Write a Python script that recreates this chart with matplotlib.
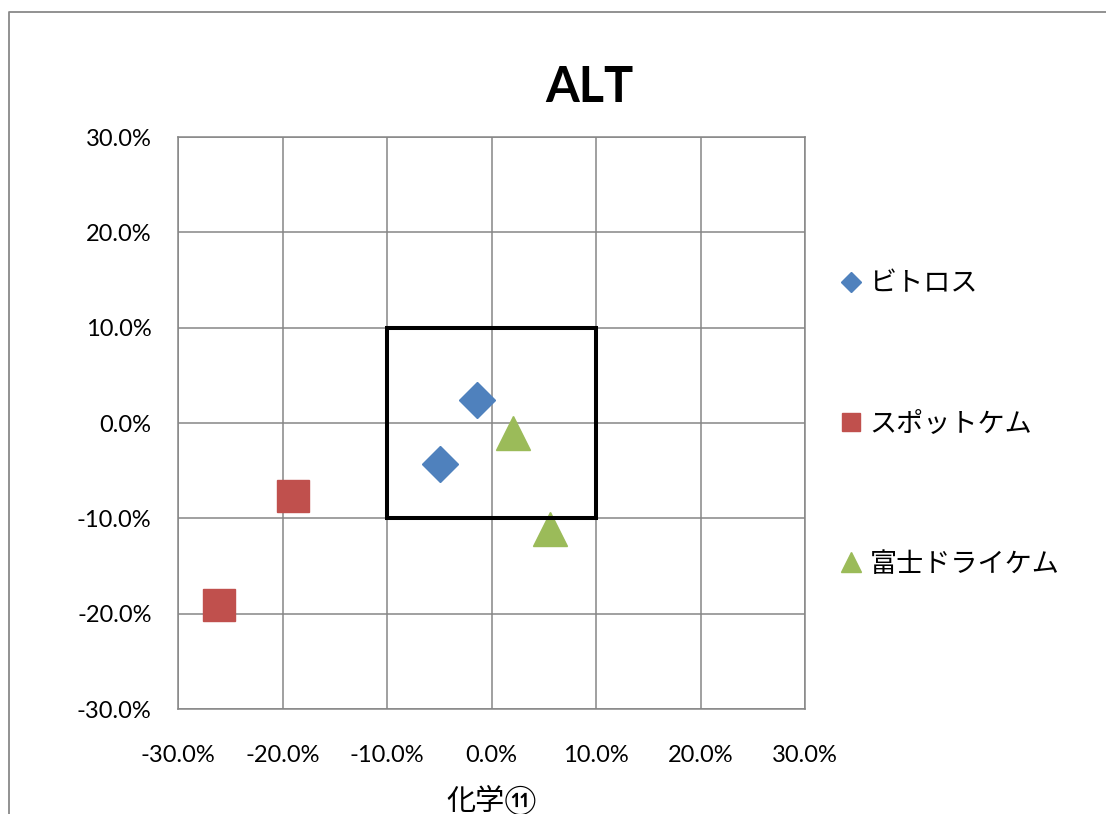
import matplotlib
matplotlib.use("Agg")
import matplotlib.pyplot as plt
from matplotlib.patches import Rectangle
from matplotlib.lines import Line2D

plt.rcParams['font.family'] = ['Lato', 'Noto Sans CJK JP', 'DejaVu Sans']

# ---- data (percent units) ----
series_names = ["ビトロス", "スポットケム", "富士ドライケム"]
vitros_x = [-1.4, -4.9]
vitros_y = [2.4, -4.3]
spotchem_x = [-19.0, -26.1]
spotchem_y = [-7.7, -19.1]
fuji_x = [2.1, 5.6]
fuji_y = [-1.0, -11.1]

tick_values = [-30, -20, -10, 0, 10, 20, 30]
tick_labels = ["-30.0%", "-20.0%", "-10.0%", "0.0%", "10.0%", "20.0%", "30.0%"]
box_range = [-10, 10]
title = "ALT"
xlabel = "化学⑪"

colors = ["#4F81BD", "#C0504D", "#9BBB59"]
grid_color = "#868686"

W, H = 1106, 814
fig = plt.figure(figsize=(W / 100, H / 100), dpi=100)
ax = fig.add_axes([178 / W, 1 - 709 / H, (805 - 178) / W, (709 - 137) / H])

ax.plot(vitros_x, vitros_y, linestyle='none', marker='D', markersize=18.3,
        color=colors[0], label=series_names[0], zorder=3)
ax.plot(spotchem_x, spotchem_y, linestyle='none', marker='s', markersize=23.5,
        color=colors[1], label=series_names[1], zorder=3)
ax.plot(fuji_x, fuji_y, linestyle='none', marker='^', markersize=25,
        color=colors[2], label=series_names[2], zorder=3)

ax.add_patch(Rectangle((box_range[0], box_range[0]), box_range[1] - box_range[0],
                       box_range[1] - box_range[0], fill=False, edgecolor='black',
                       linewidth=2.9, zorder=4, joinstyle='miter'))

ax.set_xlim(tick_values[0], tick_values[-1])
ax.set_ylim(tick_values[0], tick_values[-1])
ax.set_xticks(tick_values)
ax.set_xticklabels(tick_labels)
ax.set_yticks(tick_values)
ax.set_yticklabels(tick_labels)
ax.tick_params(axis='both', length=0, labelsize=17, colors='black')
ax.tick_params(axis='x', pad=26)
ax.tick_params(axis='y', pad=19)
ax.grid(True, color=grid_color, linewidth=1.1, zorder=0)
ax.set_axisbelow(True)
for s in ax.spines.values():
    s.set_color(grid_color)
    s.set_linewidth(1.1)

ax.set_xlabel(xlabel, fontsize=21, labelpad=14)

fig.text(589 / W, 1 - 88 / H, title, fontsize=35, fontweight='bold',
         ha='center', va='center')

leg = fig.legend(loc='center left', bbox_to_anchor=(837 / W, 1 - 424 / H),
                 frameon=False, fontsize=19.5, markerscale=0.58, numpoints=1,
                 handlelength=1.0, handletextpad=0.2, labelspacing=4.25,
                 borderpad=0, borderaxespad=0)

# outer chart frame
frame_x = [9 / W, 9 / W, 1.0]
frame_y = [0.0, 1 - 12 / H, 1 - 12 / H]
fig.add_artist(Line2D(frame_x, frame_y, transform=fig.transFigure,
                      color='#898989', linewidth=1.3))

fig.savefig("out.png", dpi=100)
